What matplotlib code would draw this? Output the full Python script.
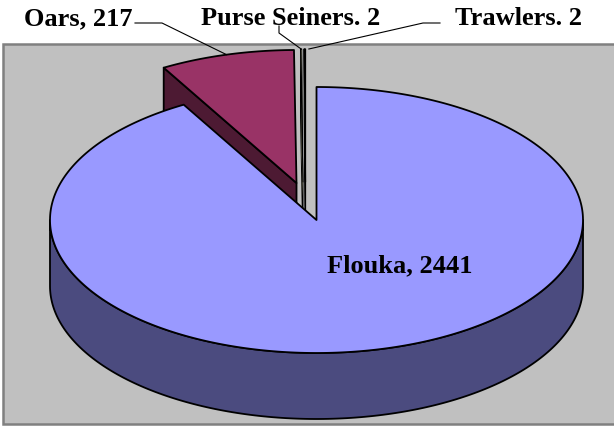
import numpy as np
import matplotlib
matplotlib.use('Agg')
import matplotlib.pyplot as plt
from matplotlib.patches import Polygon, Rectangle

# ---- data ----
categories = ['Flouka', 'Oars', 'Purse Seiners', 'Trawlers']
values = [2441, 217, 2, 2]
labels = ['Flouka, 2441', 'Oars, 217', 'Purse Seiners. 2', 'Trawlers. 2']

# ---- style ----
top_colors = ['#9999FF', '#993366', '#FFFFCC', '#CCFFFF']
side_colors = ['#4B4B7F', '#4D1A33', '#FFFFCC', '#6A8080']
explode_px = [(0, 0), (-20, -37), (-13.5, -38), (-11, -38)]
edge_lw = [1.3, 1.3, 0.7, 0.9]
CX, CY, A, B, D = 316.5, 220, 266.5, 133, 66

fig = plt.figure(figsize=(6.14, 4.26), dpi=100)
ax = fig.add_axes([0, 0, 1, 1])
ax.set_xlim(0, 614)
ax.set_ylim(426, 0)
ax.axis('off')

ax.add_patch(Rectangle((2.5, 44), 613, 380, facecolor='#C0C0C0',
                       edgecolor='#808080', lw=1.8, zorder=0))

total = sum(values)
angles = np.concatenate([[0], np.cumsum(values)]) / total * 360.0


def pt(th, ox, oy, z=0.0):
    r = np.radians(th)
    return (CX + ox + A * np.sin(r), CY + oy - B * np.cos(r) + z)


def arc(t0, t1, ox, oy, z=0.0):
    n = max(2, int(abs(t1 - t0)) + 2)
    th = np.radians(np.linspace(t0, t1, n))
    return np.column_stack([CX + ox + A * np.sin(th), CY + oy - B * np.cos(th) + z])


def poly(pts, fc, z, lw):
    ax.add_patch(Polygon(pts, closed=True, facecolor=fc, edgecolor='black',
                         lw=lw, joinstyle='round', zorder=z))


order = [1, 3, 2, 0]
for k, i in enumerate(order):
    t0, t1 = angles[i], angles[i + 1]
    ox, oy = explode_px[i]
    zb = 1 + k * 3
    lw = edge_lw[i]
    c = (CX + ox, CY + oy)
    cb = (CX + ox, CY + oy + D)
    if -np.sin(np.radians(t0)) > 1e-9:
        poly([c, pt(t0, ox, oy), pt(t0, ox, oy, D), cb], side_colors[i], zb, lw)
    if np.sin(np.radians(t1)) > 1e-9:
        poly([c, pt(t1, ox, oy), pt(t1, ox, oy, D), cb], side_colors[i], zb, lw)
    lo, hi = max(t0, 90), min(t1, 270)
    if lo < hi:
        wall = np.vstack([arc(lo, hi, ox, oy, 0), arc(hi, lo, ox, oy, D)])
        poly(wall, side_colors[i], zb + 1, lw)
    top = np.vstack([[c], arc(t0, t1, ox, oy, 0)])
    poly(top, top_colors[i], zb + 2, lw)

# ---- labels and leader lines ----
font = dict(family='Liberation Serif', fontweight='bold', fontsize=19, color='black')

ax.text(327, 272, labels[0], ha='left', va='baseline', zorder=20, **font)


def mid_rim(i):
    m = (angles[i] + angles[i + 1]) / 2
    ox, oy = explode_px[i]
    return pt(m, ox, oy)


ax.text(133, 25, labels[1], ha='right', va='baseline', zorder=20, **font)
p = mid_rim(1)
ax.plot([135, 162, p[0]], [23, 23, p[1]], color='black', lw=0.8, zorder=20)

ax.text(291, 25, labels[2], ha='center', va='baseline', zorder=20, **font)
p = mid_rim(2)
ax.plot([279, 279, p[0]], [26, 33, p[1]], color='black', lw=0.8, zorder=20)

ax.text(455, 25, labels[3], ha='left', va='baseline', zorder=20, **font)
p = mid_rim(3)
ax.plot([440, 423, p[0] + 4], [23, 23, p[1]], color='black', lw=0.8, zorder=20)

fig.savefig('out.png', dpi=100, facecolor='white')
